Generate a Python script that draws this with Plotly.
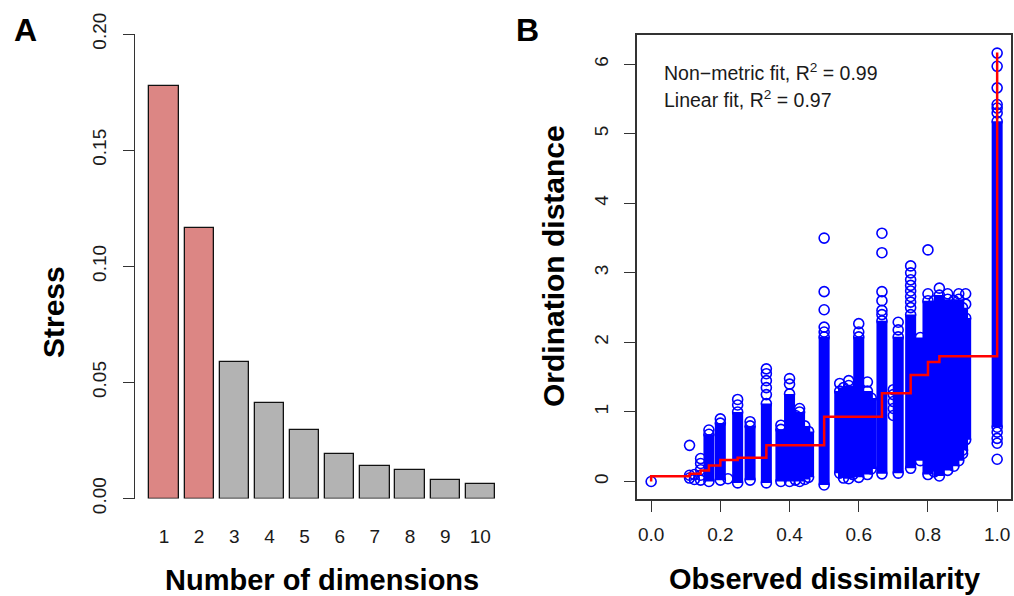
import plotly.graph_objects as go

# ---------------- Panel A data ----------------
dimensions = [1, 2, 3, 4, 5, 6, 7, 8, 9, 10]
stress = [0.1776, 0.1166, 0.0588, 0.0410, 0.0295, 0.0192, 0.0141, 0.0124, 0.0081, 0.0064]
bar_colors = ["#DC8684", "#DC8684"] + ["#B3B3B3"] * 8
stress_ticks = [0.00, 0.05, 0.10, 0.15, 0.20]
stress_ticktext = ["0.00", "0.05", "0.10", "0.15", "0.20"]

# ---------------- Panel B data ----------------
# dense vertical runs of overlapping points: dissimilarity, low and high ordination distance
band_x = [0.167, 0.2, 0.25, 0.286, 0.333, 0.375, 0.4, 0.417, 0.429, 0.444, 0.455,
          0.5, 0.545, 0.556, 0.571, 0.583, 0.6, 0.625, 0.636, 0.667, 0.714, 0.75,
          0.778, 0.8, 0.818, 0.833, 0.857, 0.875, 0.889, 0.9, 0.909, 1.0]
band_lo = [0.00, 0.02, -0.02, 0.02, -0.02, 0.00, 0.00, 0.02, 0.00, 0.03, 0.06,
           -0.05, 0.12, 0.05, 0.04, 0.10, 0.06, 0.10, 0.18, 0.11, 0.12, 0.19,
           0.30, 0.10, 0.14, 0.08, 0.16, 0.22, 0.30, 0.45, 0.60, 0.78]
band_hi = [0.68, 0.84, 1.00, 0.80, 1.12, 0.75, 1.26, 0.95, 1.00, 0.80, 0.72,
           2.08, 1.30, 1.35, 1.38, 1.25, 2.08, 1.30, 1.20, 2.31, 2.08, 2.40,
           2.07, 2.60, 2.60, 2.68, 2.62, 2.60, 2.62, 2.50, 2.35, 5.18]

# individual, separately visible points
pt_x = [0.0,
        0.111, 0.111, 0.111,
        0.125, 0.125,
        0.143, 0.143, 0.143, 0.143, 0.143,
        0.167, 0.2, 0.222,
        0.25, 0.25, 0.286,
        0.333, 0.333, 0.333, 0.333, 0.333,
        0.375, 0.4, 0.4, 0.429,
        0.5, 0.5, 0.5, 0.5, 0.5,
        0.545, 0.571, 0.6, 0.6, 0.625,
        0.667, 0.667, 0.667, 0.667, 0.667, 0.667,
        0.7, 0.7, 0.7, 0.7, 0.7,
        0.714, 0.714,
        0.75, 0.75, 0.75, 0.75, 0.75, 0.75, 0.75, 0.75,
        0.8, 0.8, 0.833, 0.857, 0.889, 0.909, 0.909, 0.9,
        1.0, 1.0, 1.0, 1.0, 1.0, 1.0, 1.0, 1.0, 1.0, 1.0]
pt_y = [0.0,
        0.05, 0.09, 0.52,
        0.03, 0.10,
        0.02, 0.09, 0.17, 0.26, 0.33,
        0.74, 0.90, 0.04,
        1.10, 1.18, 0.86,
        1.25, 1.35, 1.45, 1.55, 1.62,
        0.81, 1.40, 1.48, 1.05,
        2.15, 2.22, 2.47, 2.73, 3.50,
        1.41, 1.45, 2.15, 2.27, 1.43,
        2.40, 2.46, 2.60, 2.73, 3.29, 3.57,
        0.95, 1.05, 1.15, 1.25, 1.32,
        2.18, 2.29,
        2.50, 2.58, 2.66, 2.74, 2.82, 2.90, 3.00, 3.10,
        2.70, 3.33, 2.78, 2.70, 2.70, 2.70, 2.55, 0.40,
        0.32, 0.55, 0.62, 0.71, 5.30, 5.37, 5.42, 5.66, 5.97, 6.16]

# monotone (non-metric) step fit
step_x = [0.0, 0.0, 0.111, 0.143, 0.167, 0.2, 0.25, 0.333, 0.5, 0.667, 0.75, 0.8, 0.833, 1.0]
step_y = [0.0, 0.076, 0.11, 0.16, 0.23, 0.31, 0.34, 0.52, 0.93, 1.27, 1.53, 1.72, 1.80, 6.17]

diss_ticks = [0.0, 0.2, 0.4, 0.6, 0.8, 1.0]
diss_ticktext = ["0.0", "0.2", "0.4", "0.6", "0.8", "1.0"]
dist_ticks = [0, 1, 2, 3, 4, 5, 6]

FONT = "Liberation Sans, Arial, sans-serif"
TXT = "#1a1a1a"
AX = "#333333"
W, H = 1014, 596
TICKSIZE = 19

def fx(px):
    return px / W

def fy(py):
    return 1 - py / H

fig = go.Figure()

# Panel A bars
fig.add_trace(go.Bar(
    x=dimensions, y=stress, width=1 / 1.2,
    marker=dict(color=bar_colors, line=dict(color="#111111", width=1.3)),
    xaxis="x", yaxis="y", showlegend=False, hoverinfo="x+y"))

# Panel B dense runs
bx, by = [], []
for x, lo, hi in zip(band_x, band_lo, band_hi):
    bx += [x, x, None]
    by += [lo, hi, None]
fig.add_trace(go.Scatter(
    x=bx, y=by, mode="lines+markers",
    line=dict(color="#0000FF", width=11),
    marker=dict(symbol="circle-open", size=10, color="#0000FF", line=dict(width=1.6)),
    xaxis="x2", yaxis="y2", showlegend=False, hoverinfo="skip"))

fig.add_trace(go.Scatter(
    x=pt_x, y=pt_y, mode="markers",
    marker=dict(symbol="circle-open", size=10, color="#0000FF", line=dict(width=1.6)),
    xaxis="x2", yaxis="y2", showlegend=False))

fig.add_trace(go.Scatter(
    x=step_x, y=step_y, mode="lines", line=dict(color="#FF0000", width=2.5, shape="hv"),
    xaxis="x2", yaxis="y2", showlegend=False))

fig.update_layout(
    width=W, height=H, margin=dict(l=0, r=0, t=0, b=0, autoexpand=False),
    paper_bgcolor="white", plot_bgcolor="white",
    font=dict(family=FONT, color=TXT, size=16),
    bargap=0,
    xaxis=dict(domain=[fx(135), fx(510)], range=[0.175, 10.845], automargin=False,
               tickmode="array", tickvals=dimensions, ticktext=[str(d) for d in dimensions],
               showline=False, showgrid=False, zeroline=False,
               ticks="outside", ticklen=21, tickcolor="rgba(0,0,0,0)",
               tickfont=dict(size=TICKSIZE, color=TXT), anchor="y"),
    yaxis=dict(domain=[fy(498.5), fy(34)], range=[0, 0.2], automargin=False,
               tickmode="array", tickvals=stress_ticks, ticktext=stress_ticktext,
               showline=True, linecolor=AX, linewidth=1,
               ticks="outside", ticklen=11, tickcolor=AX, tickwidth=1,
               tickangle=-90, tickfont=dict(size=TICKSIZE, color=TXT),
               ticklabelstandoff=9,
               showgrid=False, zeroline=False, anchor="x"),
    xaxis2=dict(domain=[fx(637.3), fx(1011)], range=[-0.04, 1.04], automargin=False,
                tickmode="array", tickvals=diss_ticks, ticktext=diss_ticktext,
                showline=True, mirror=True, linecolor=AX, linewidth=1.5,
                ticks="outside", ticklen=12, tickcolor=AX,
                tickfont=dict(size=TICKSIZE, color=TXT),
                ticklabelstandoff=6,
                showgrid=False, zeroline=False, anchor="y2"),
    yaxis2=dict(domain=[fy(498.7), fy(35)], range=[-0.247, 6.42], automargin=False,
                tickmode="array", tickvals=dist_ticks,
                showline=True, mirror=True, linecolor=AX, linewidth=1.5,
                ticks="outside", ticklen=12, tickcolor=AX,
                tickangle=-90, tickfont=dict(size=TICKSIZE, color=TXT),
                ticklabelstandoff=8,
                showgrid=False, zeroline=False, anchor="x2"),
)

ann = [
    dict(text="<b>A</b>", x=fx(25), y=fy(30), size=32, angle=0),
    dict(text="<b>B</b>", x=fx(527), y=fy(30), size=32, angle=0),
    dict(text="<b>Stress</b>", x=fx(53), y=fy(312), size=30, angle=-90),
    dict(text="<b>Number of dimensions</b>", x=fx(322), y=fy(580), size=29, angle=0),
    dict(text="<b>Ordination distance</b>", x=fx(553), y=fy(266), size=30, angle=-90),
    dict(text="<b>Observed dissimilarity</b>", x=fx(824), y=fy(579), size=29, angle=0),
]
for a in ann:
    fig.add_annotation(text=a["text"], x=a["x"], y=a["y"], xref="paper", yref="paper",
                       showarrow=False, textangle=a["angle"], xanchor="center", yanchor="middle",
                       font=dict(family=FONT, size=a["size"], color="#000000"))

fig.add_annotation(text="Non\u2212metric fit, R<sup>2</sup> = 0.99", x=fx(662), y=fy(72),
                   xref="paper", yref="paper", showarrow=False, xanchor="left", yanchor="middle",
                   font=dict(family=FONT, size=19.5, color=TXT))
fig.add_annotation(text="Linear fit, R<sup>2</sup> = 0.97", x=fx(662), y=fy(99),
                   xref="paper", yref="paper", showarrow=False, xanchor="left", yanchor="middle",
                   font=dict(family=FONT, size=19.5, color=TXT))

fig.write_html("out.html")
